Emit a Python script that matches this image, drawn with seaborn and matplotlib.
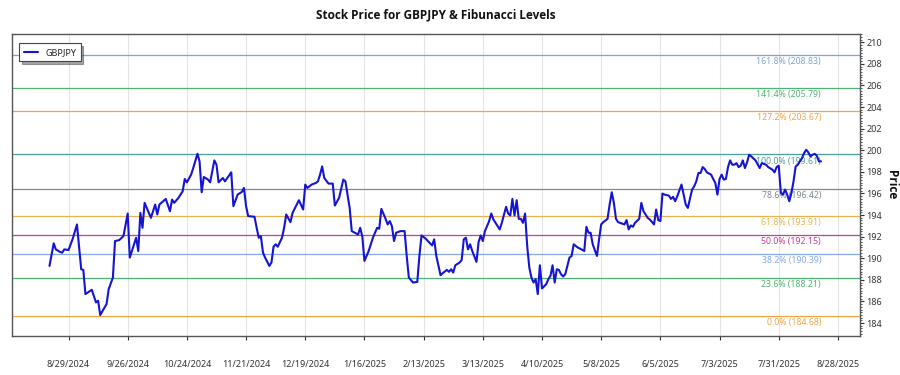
import matplotlib
matplotlib.use('Agg')
import matplotlib.pyplot as plt
import matplotlib.dates as mdates
from matplotlib.ticker import MultipleLocator, FixedLocator
import seaborn as sns
import pandas as pd

# ---------------- data ----------------
dates = [
    "2024-08-20", "2024-08-22", "2024-08-23", "2024-08-25", "2024-08-26", "2024-08-27", "2024-08-29", "2024-08-31",
    "2024-09-02", "2024-09-04", "2024-09-05", "2024-09-06", "2024-09-09", "2024-09-11", "2024-09-12", "2024-09-13",
    "2024-09-16", "2024-09-17", "2024-09-19", "2024-09-20", "2024-09-22", "2024-09-24", "2024-09-26", "2024-09-27",
    "2024-09-30", "2024-10-01", "2024-10-02", "2024-10-03", "2024-10-04", "2024-10-07", "2024-10-09", "2024-10-10",
    "2024-10-11", "2024-10-14", "2024-10-16", "2024-10-17",
    "2024-10-18", "2024-10-20", "2024-10-22", "2024-10-23", "2024-10-24", "2024-10-26", "2024-10-27", "2024-10-29",
    "2024-10-30", "2024-10-31", "2024-11-01", "2024-11-03", "2024-11-04", "2024-11-06", "2024-11-07", "2024-11-08",
    "2024-11-10", "2024-11-11", "2024-11-14", "2024-11-15", "2024-11-17", "2024-11-19", "2024-11-20", "2024-11-21",
    "2024-11-22", "2024-11-25", "2024-11-26", "2024-11-27", "2024-11-28", "2024-11-29", "2024-11-30", "2024-12-02",
    "2024-12-03", "2024-12-04", "2024-12-05", "2024-12-06", "2024-12-08", "2024-12-09", "2024-12-10", "2024-12-12",
    "2024-12-13", "2024-12-16", "2024-12-18", "2024-12-19",
    "2024-12-20", "2024-12-22", "2024-12-24", "2024-12-25", "2024-12-26", "2024-12-27", "2024-12-28", "2024-12-30",
    "2025-01-01", "2025-01-02", "2025-01-04", "2025-01-06", "2025-01-07", "2025-01-09", "2025-01-10", "2025-01-12",
    "2025-01-13", "2025-01-14", "2025-01-15", "2025-01-16", "2025-01-18", "2025-01-20", "2025-01-22", "2025-01-23",
    "2025-01-24", "2025-01-26", "2025-01-27", "2025-01-28", "2025-01-29", "2025-01-30", "2025-01-31", "2025-02-02",
    "2025-02-04", "2025-02-05", "2025-02-06", "2025-02-08", "2025-02-10", "2025-02-11", "2025-02-12", "2025-02-14",
    "2025-02-15", "2025-02-17", "2025-02-18", "2025-02-19",
    "2025-02-21", "2025-02-22", "2025-02-24", "2025-02-25", "2025-02-26", "2025-02-27", "2025-02-28", "2025-03-02",
    "2025-03-03", "2025-03-04", "2025-03-05", "2025-03-06", "2025-03-07", "2025-03-08", "2025-03-10", "2025-03-11",
    "2025-03-12", "2025-03-13", "2025-03-14", "2025-03-16", "2025-03-17", "2025-03-18", "2025-03-20", "2025-03-21",
    "2025-03-22", "2025-03-24", "2025-03-25", "2025-03-26", "2025-03-27", "2025-03-28", "2025-03-29", "2025-03-30",
    "2025-03-31", "2025-04-01", "2025-04-02", "2025-04-03", "2025-04-04", "2025-04-05", "2025-04-06", "2025-04-07",
    "2025-04-08", "2025-04-09", "2025-04-10", "2025-04-12", "2025-04-13", "2025-04-14", "2025-04-15", "2025-04-16",
    "2025-04-17", "2025-04-18", "2025-04-19", "2025-04-20", "2025-04-21", "2025-04-22", "2025-04-23",
    "2025-04-24", "2025-04-25", "2025-04-27", "2025-04-28", "2025-04-30", "2025-05-01", "2025-05-02", "2025-05-03",
    "2025-05-04", "2025-05-06", "2025-05-07", "2025-05-08", "2025-05-09", "2025-05-11", "2025-05-12", "2025-05-13",
    "2025-05-14", "2025-05-15", "2025-05-16", "2025-05-19", "2025-05-20", "2025-05-21", "2025-05-22", "2025-05-23",
    "2025-05-24", "2025-05-26", "2025-05-27", "2025-05-28", "2025-05-30", "2025-05-31", "2025-06-02", "2025-06-03",
    "2025-06-04", "2025-06-05", "2025-06-06", "2025-06-07", "2025-06-09", "2025-06-10", "2025-06-11", "2025-06-12",
    "2025-06-13", "2025-06-15", "2025-06-16", "2025-06-17", "2025-06-18", "2025-06-20",
    "2025-06-21", "2025-06-22", "2025-06-23", "2025-06-24", "2025-06-25", "2025-06-26", "2025-06-27", "2025-06-29",
    "2025-06-30", "2025-07-01", "2025-07-02", "2025-07-03", "2025-07-04", "2025-07-05", "2025-07-06", "2025-07-07",
    "2025-07-08", "2025-07-09", "2025-07-10", "2025-07-11", "2025-07-12", "2025-07-13", "2025-07-14", "2025-07-15",
    "2025-07-16", "2025-07-17", "2025-07-18", "2025-07-20", "2025-07-22", "2025-07-23", "2025-07-25", "2025-07-26",
    "2025-07-28", "2025-07-29", "2025-07-30", "2025-07-31", "2025-08-01", "2025-08-02", "2025-08-03", "2025-08-04",
    "2025-08-05", "2025-08-06", "2025-08-07", "2025-08-08", "2025-08-09", "2025-08-10", "2025-08-11", "2025-08-12",
    "2025-08-13", "2025-08-14", "2025-08-15", "2025-08-16", "2025-08-17", "2025-08-18", "2025-08-19", "2025-08-20",
]

prices = [
    189.29, 191.38, 190.82, 190.58, 190.52, 190.82, 190.76, 191.81,
    193.13, 188.98, 188.92, 186.68, 187.08, 185.91, 186.06, 184.74,
    185.76, 187.14, 188.21, 191.59, 191.68, 192.05, 194.14, 190.06,
    191.90, 190.67, 194.20, 192.82, 195.13, 193.74, 194.97, 194.05,
    194.97, 195.49, 194.36, 195.43,
    195.13, 195.59, 196.20, 197.34, 197.03, 197.74, 198.35, 199.67,
    198.97, 196.11, 197.52, 197.28, 197.03, 199.06, 198.66, 197.03,
    197.43, 197.12, 197.95, 194.82, 195.89, 196.14, 196.51, 194.82,
    193.90, 193.84, 192.82, 191.90, 192.05, 190.52, 190.06, 189.29,
    189.60, 191.07, 191.29, 191.07, 191.90, 192.82, 194.05, 193.34,
    194.20, 195.37, 194.51, 196.82,
    196.51, 196.82, 196.97, 197.12, 197.74, 198.50, 197.43, 196.91,
    196.91, 194.88, 195.59, 197.28, 197.12, 194.66, 192.51, 192.30,
    192.21, 192.82, 191.99, 189.75, 190.67, 191.90, 192.82, 192.73,
    194.57, 193.65, 193.13, 193.44, 192.97, 191.59, 192.36, 192.51,
    192.51, 190.21, 188.21, 187.75, 187.81, 190.21, 192.11, 191.81,
    191.59, 191.19, 191.75, 190.21,
    188.43, 188.61, 188.92, 188.74, 188.98, 188.67, 189.35, 189.60,
    189.84, 191.75, 191.90, 190.82, 191.29, 190.67, 189.66, 191.50,
    192.11, 191.59, 192.51, 193.44, 194.14, 193.59, 192.97, 192.67,
    193.28, 194.76, 194.14, 193.96, 195.49, 193.96, 195.37, 193.65,
    193.65, 193.28, 194.14, 191.13, 189.13, 188.21, 187.75, 188.06,
    186.68, 189.35, 187.20, 187.60, 188.06, 188.37, 189.35, 187.75,
    188.98, 188.92, 188.52, 188.31, 188.52, 189.29, 190.06,
    190.21, 191.29, 190.98, 190.89, 190.67, 192.91, 192.36, 192.36,
    191.29, 190.21, 191.75, 193.13, 193.34, 193.65, 194.97, 196.11,
    195.13, 193.65, 193.34, 193.13, 193.53, 192.67, 193.04, 192.91,
    193.28, 193.65, 195.13, 194.36, 193.74, 193.59, 193.13, 194.51,
    193.53, 193.44, 195.99, 195.89, 195.80, 195.49, 195.68, 195.28,
    195.74, 196.82, 195.89, 194.97, 194.66, 196.35,
    196.66, 197.12, 197.89, 197.89, 198.44, 198.26, 197.95, 197.74,
    197.34, 196.97, 195.89, 197.34, 197.74, 197.28, 197.34, 198.44,
    199.06, 198.66, 198.66, 198.81, 198.44, 198.57, 199.06, 198.35,
    198.87, 199.58, 199.43, 199.06, 198.35, 198.81, 198.66, 198.44,
    198.20, 197.95, 198.44, 198.57, 196.05, 195.89, 196.35, 195.89,
    195.28, 196.05, 197.12, 198.50, 198.66, 198.97, 199.27, 199.73,
    200.04, 199.80, 199.43, 199.58, 199.67, 199.49, 198.97, 198.97,
]

fib_ratios = ["0.0%", "23.6%", "38.2%", "50.0%", "61.8%", "78.6%", "100.0%", "127.2%", "141.4%", "161.8%"]
fib_levels = [184.68, 188.21, 190.39, 192.15, 193.91, 196.42, 199.61, 203.67, 205.79, 208.83]
fib_colors = ["#f2a444", "#4fb372", "#86a9e6", "#c43f9b", "#e9b24c",
              "#7f8797", "#4a9e99", "#f2a444", "#4fb372", "#7ea3dd"]

x_tick_dates = ["2024-08-29", "2024-09-26", "2024-10-24", "2024-11-21", "2024-12-19",
                "2025-01-16", "2025-02-13", "2025-03-13", "2025-04-10", "2025-05-08",
                "2025-06-05", "2025-07-03", "2025-07-31", "2025-08-28"]
y_ticks = list(range(184, 211, 2))

# ---------------- plot ----------------
sns.set_theme(style="white")
plt.rcParams['font.family'] = ['Noto Sans', 'DejaVu Sans']
BOLD_FAMILY = ['Open Sans', 'Roboto', 'DejaVu Sans']

df = pd.DataFrame({"Date": pd.to_datetime(dates), "Price": prices})

fig = plt.figure(figsize=(9, 3.75), dpi=100)
ax = fig.add_axes([0.0133, 0.104, 0.9418, 0.805])

sns.lineplot(data=df, x="Date", y="Price", color="#1414d2", linewidth=1.5,
             label="GBPJPY", ax=ax, zorder=5)

last_date = df["Date"].iloc[-1]
for r, lv, c in zip(fib_ratios, fib_levels, fib_colors):
    ax.axhline(lv, color=c, linewidth=0.9, zorder=2)
    ax.annotate(f"{r} ({lv:.2f})", xy=(last_date, lv), xytext=(0, -1.5),
                textcoords="offset points", ha="right", va="top",
                fontsize=6.3, color=c, zorder=3)

tick_ts = pd.to_datetime(x_tick_dates)
ax.xaxis.set_major_locator(FixedLocator(mdates.date2num(tick_ts)))
ax.set_xticklabels([f"{d.month}/{d.day}/{d.year}" for d in tick_ts])
ax.set_xlim(pd.Timestamp("2024-08-02 06:00"), pd.Timestamp("2025-09-07 06:00"))

ax.set_ylim(182.8, 210.75)
ax.yaxis.tick_right()
ax.yaxis.set_label_position("right")
ax.yaxis.set_major_locator(FixedLocator(y_ticks))
ax.yaxis.set_minor_locator(MultipleLocator(0.25))
ax.tick_params(axis="both", which="major", direction="out", length=3, width=0.8,
               labelsize=6.5, colors="#333333", pad=2)
ax.tick_params(axis="x", which="major", pad=14)
ax.tick_params(axis="y", which="minor", direction="out", length=1.5, width=0.6,
               color="#333333", right=True, left=False)
ax.tick_params(axis="y", which="major", left=False, right=True)
ax.tick_params(axis="x", which="major", bottom=True)

ax.grid(axis="x", color="#e4e4e4", linewidth=0.8)
ax.set_axisbelow(True)

for s in ax.spines.values():
    s.set_visible(True)
    s.set_color("#555555")
    s.set_linewidth(1.0)

ax.set_xlabel("")
ax.set_ylabel("Price", rotation=270, fontsize=8.5, fontweight="bold", labelpad=11,
              color="#111111", family=BOLD_FAMILY)
ax.set_title("Stock Price for GBPJPY & Fibunacci Levels", fontsize=8.5, fontweight="bold",
             pad=11, color="#111111", family=BOLD_FAMILY)

leg = ax.legend(loc="upper left", bbox_to_anchor=(0.003, 0.985), fontsize=6.5, frameon=True,
                fancybox=False, shadow=True, edgecolor="#444444", framealpha=1,
                handlelength=1.6, borderpad=0.5)
leg.get_frame().set_linewidth(0.8)

fig.savefig("out.png", dpi=100)
